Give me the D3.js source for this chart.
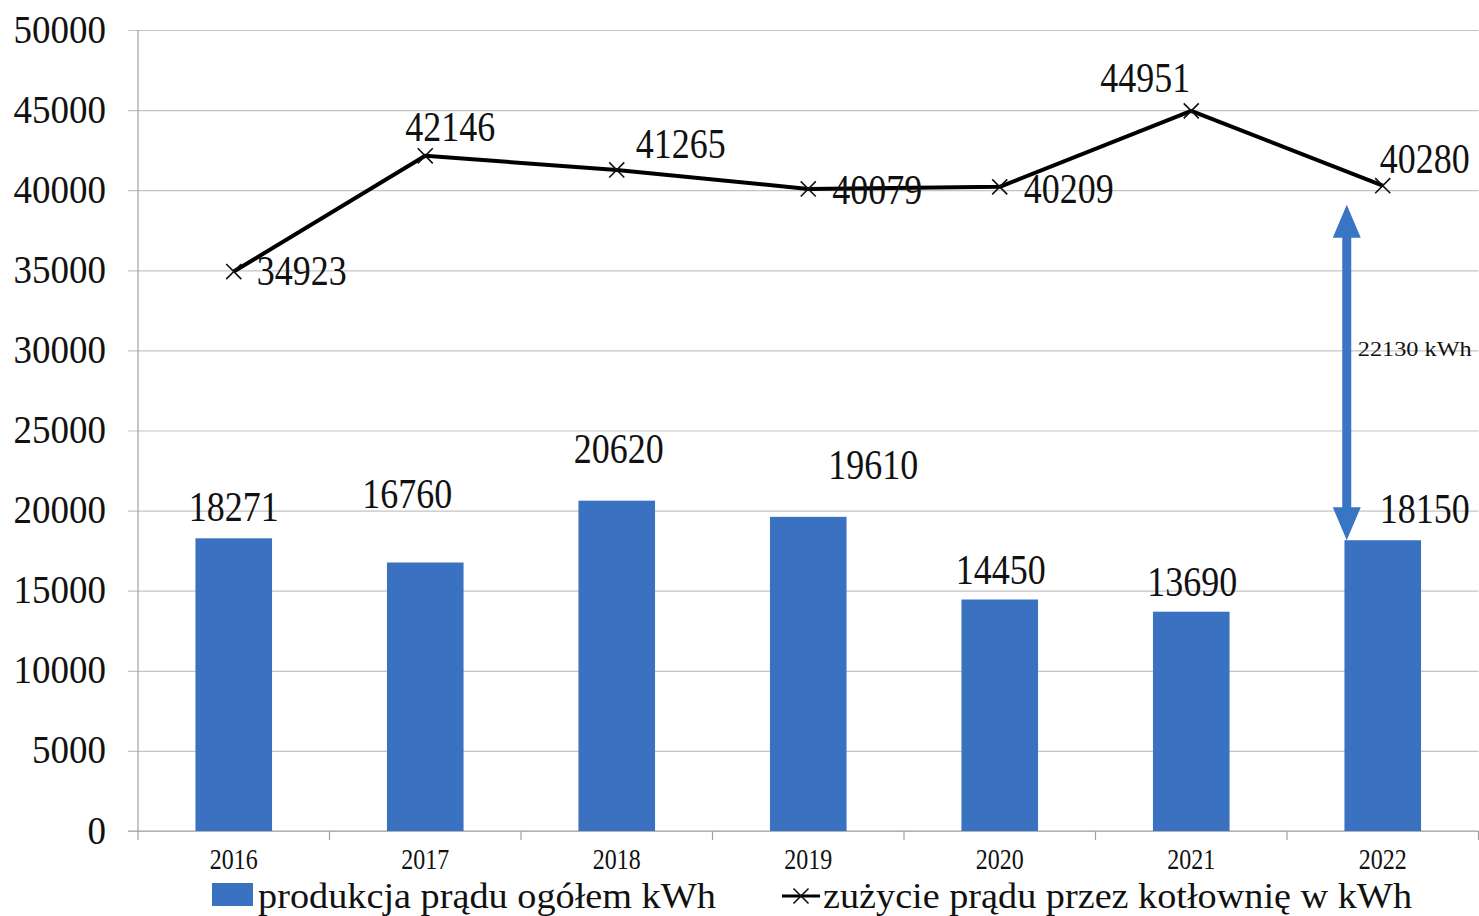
<!DOCTYPE html>
<html>
<head>
<meta charset="utf-8">
<script src="https://cdn.jsdelivr.net/npm/d3@7"></script>
<style>
  html, body { margin: 0; padding: 0; background: #fff; }
  svg { display: block; }
  text { font-family: "Liberation Serif", "Times New Roman", serif; fill: #111; }
</style>
</head>
<body>
<svg id="chart" width="1479" height="916"></svg>
<script>
// Annual data, kWh
const years = ["2016", "2017", "2018", "2019", "2020", "2021", "2022"];
const production = [18271, 16760, 20620, 19610, 14450, 13690, 18150];
const consumption = [34923, 42146, 41265, 40079, 40209, 44951, 40280];
const yTicks = [0, 5000, 10000, 15000, 20000, 25000, 30000, 35000, 40000, 45000, 50000];
const legendLabels = ["produkcja prądu ogółem kWh", "zużycie prądu przez kotłownię w kWh"];

// Hand-placed value label nudges (px) relative to each mark
const lineLabelNudge = [[68, 13], [25, -15], [64, -12], [69, 15], [69, 16], [-46, -19], [42, -13]];
const barLabelNudge = [[0, -17], [-18, -55], [2, -38], [65, -38], [1, -16], [1, -16], [42, -17]];

const svg = d3.select("#chart");
const plotL = 138, plotR = 1478.5, plotT = 30, plotB = 831;

const x = d3.scaleBand().domain(years).range([plotL, plotR]).padding(0);
const y = d3.scaleLinear().domain([0, 50000]).range([plotB, plotT]);
const cx = d => x(d) + x.bandwidth() / 2;

const gridColor = "#c4c4c4", axisColor = "#a0a0a0";
const barColor = "#3a71c0";

// Horizontal gridlines + y axis
const yAxis = d3.axisLeft(y).tickValues(yTicks).tickSize(plotR - plotL + 10).tickFormat(d3.format("d"));
const gy = svg.append("g").attr("transform", `translate(${plotR},0)`).call(yAxis);
gy.select(".domain").remove();
gy.selectAll(".tick line").attr("stroke", gridColor).attr("stroke-width", 1.2);
gy.selectAll(".tick text")
  .attr("x", null).attr("dy", null)
  .attr("transform", `translate(${-(plotR - 106)},12) scale(1,1.07)`)
  .attr("text-anchor", "end")
  .style("font-size", "37px")
  .style("font-family", "Liberation Serif, serif")
  .attr("fill", "#111");

// Vertical axis line
svg.append("line")
  .attr("x1", plotL).attr("x2", plotL).attr("y1", plotT).attr("y2", plotB + 9)
  .attr("stroke", axisColor).attr("stroke-width", 1.2);

// Category axis
const gx = svg.append("g").attr("transform", `translate(0,${plotB})`)
  .call(d3.axisBottom(x).tickSize(0).tickFormat(""));
gx.select(".domain").attr("stroke", axisColor).attr("stroke-width", 1.2).attr("d", `M${plotL - 10},0H${plotR}`);
gx.selectAll(".tick").remove();
gx.selectAll("line.sep").data(years)
  .join("line").attr("class", "sep")
  .attr("x1", (d, i) => plotL + (i + 1) * x.step())
  .attr("x2", (d, i) => plotL + (i + 1) * x.step())
  .attr("y1", 0).attr("y2", 9)
  .attr("stroke", axisColor).attr("stroke-width", 1.2);

svg.append("g").selectAll("text").data(years).join("text")
  .attr("transform", d => `translate(${cx(d)},869) scale(1,1.2)`)
  .attr("text-anchor", "middle")
  .style("font-size", "24px")
  .text(d => d);

// Bars
const barW = x.bandwidth() * 0.4;
svg.append("g").selectAll("rect").data(production).join("rect")
  .attr("x", (d, i) => cx(years[i]) - barW / 2)
  .attr("y", d => y(d))
  .attr("width", barW)
  .attr("height", d => y(0) - y(d))
  .attr("fill", barColor);

svg.append("g").selectAll("text").data(production).join("text")
  .attr("transform", (d, i) => `translate(${cx(years[i]) + barLabelNudge[i][0]},${y(d) + barLabelNudge[i][1]}) scale(1,1.18)`)
  .attr("text-anchor", "middle")
  .style("font-size", "36px")
  .text(d => d);

// Consumption line
const line = d3.line().x((d, i) => cx(years[i])).y(d => y(d));
svg.append("path").datum(consumption)
  .attr("d", line).attr("fill", "none")
  .attr("stroke", "#000").attr("stroke-width", 4).attr("stroke-linejoin", "round");

const cross = d3.symbol().type(d3.symbolX).size(150);
svg.append("g").selectAll("path").data(consumption).join("path")
  .attr("transform", (d, i) => `translate(${cx(years[i])},${y(d)})`)
  .attr("d", cross)
  .attr("fill", "none").attr("stroke", "#111").attr("stroke-width", 1.6);

svg.append("g").selectAll("text").data(consumption).join("text")
  .attr("transform", (d, i) => `translate(${cx(years[i]) + lineLabelNudge[i][0]},${y(d) + lineLabelNudge[i][1]}) scale(1,1.18)`)
  .attr("text-anchor", "middle")
  .style("font-size", "36px")
  .text(d => d);

// Gap arrow between 2022 consumption and production
const last = years.length - 1;
const gap = consumption[last] - production[last];
const ax = cx(years[last]) - 36;
const yTop = y(consumption[last]) + 19, yBot = y(production[last]);
const headL = 33, headW = 14, shaftW = 4.5;
svg.append("path")
  .attr("d", `M${ax},${yTop} L${ax + headW},${yTop + headL} L${ax + shaftW},${yTop + headL}
              L${ax + shaftW},${yBot - headL} L${ax + headW},${yBot - headL} L${ax},${yBot}
              L${ax - headW},${yBot - headL} L${ax - shaftW},${yBot - headL}
              L${ax - shaftW},${yTop + headL} L${ax - headW},${yTop + headL} Z`)
  .attr("fill", "#3a74c4");
svg.append("text")
  .attr("transform", `translate(${ax + 11},${y(30000) + 6}) scale(1,1.1)`)
  .style("font-size", "19px")
  .attr("textLength", 114).attr("lengthAdjust", "spacingAndGlyphs")
  .text(`${gap}  kWh`);

// Legend
const lg = svg.append("g");
lg.append("rect").attr("x", 212).attr("y", 883).attr("width", 41).attr("height", 23).attr("fill", barColor);
lg.append("text").attr("x", 258).attr("y", 908)
  .style("font-size", "36px")
  .attr("textLength", 458).attr("lengthAdjust", "spacingAndGlyphs")
  .text(legendLabels[0]);
lg.append("line").attr("x1", 782).attr("x2", 820).attr("y1", 896).attr("y2", 896)
  .attr("stroke", "#000").attr("stroke-width", 3);
lg.append("path").attr("transform", "translate(801,896)").attr("d", cross)
  .attr("fill", "none").attr("stroke", "#111").attr("stroke-width", 1.6);
lg.append("text").attr("x", 823).attr("y", 908)
  .style("font-size", "36px")
  .attr("textLength", 589).attr("lengthAdjust", "spacingAndGlyphs")
  .text(legendLabels[1]);
</script>
</body>
</html>
